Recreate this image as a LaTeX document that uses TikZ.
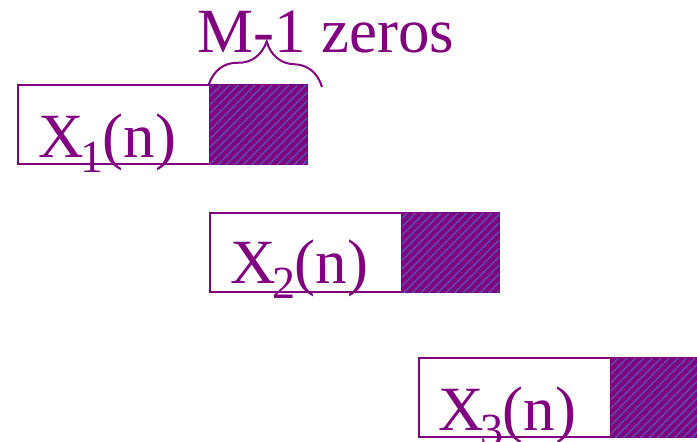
\documentclass[tikz,border=0pt]{standalone}
\usepackage{fontspec}
\setmainfont{Liberation Serif}
\usetikzlibrary{patterns.meta,decorations.pathreplacing}
\definecolor{pur}{HTML}{800080}
\definecolor{hatchc}{HTML}{5A4CB0}
\tikzset{
  plain/.style={draw=pur,line width=2pt,fill=white,inner sep=0pt,minimum width=192pt,minimum height=79pt,anchor=north west},
  zerobox/.style={draw=pur,line width=2pt,fill=pur,inner sep=0pt,minimum width=97pt,minimum height=79pt,anchor=north west,
    postaction={pattern={Lines[angle=45,distance=6pt,line width=1.6pt]},pattern color=hatchc}},
  lbl/.style={text=pur,anchor=base west,inner sep=0pt,font=\fontsize{63}{63}\selectfont},
}
\newcommand{\sig}[1]{X\kern-3pt\raisebox{-15pt}{\fontsize{46}{46}\selectfont #1}\kern-1pt(n)}
\begin{document}
\begin{tikzpicture}[x=1pt,y=-1pt]
\useasboundingbox (0,0) rectangle (697,442);
% row 1
\node[plain] (a1) at (17,84) {};
\node[zerobox] (z1) at (209,84) {};
\node[lbl] (t1) at (38,157) {\sig{1}};
% row 2
\node[plain] (a2) at (209,212) {};
\node[zerobox] (z2) at (401,212) {};
\node[lbl] (t2) at (230,283) {\sig{2}};
% row 3
\node[plain] (a3) at (418,357) {};
\node[zerobox] (z3) at (610,357) {};
\node[lbl] (t3) at (438,430) {\sig{3}};
% label and brace
\node[lbl] (m) at (197,52) {M-1 zeros};
\coordinate (bend) at (322,87);
\draw[pur,line width=2pt,decorate,decoration={brace,amplitude=44pt,aspect=0.5}] (z1.north west) -- (bend);
\end{tikzpicture}
\end{document}
